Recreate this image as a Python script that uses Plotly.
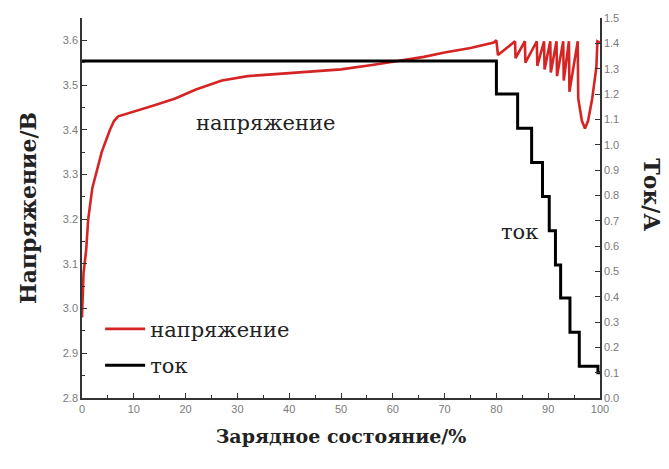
import plotly.graph_objects as go

# Voltage (left axis) vs state of charge
soc_v = [0, 0.3, 0.8, 1.2, 2.0, 2.7, 3.8, 5.4, 6.2, 7.0, 10, 14, 18, 22, 27, 32, 38, 44, 50, 56, 62, 66, 70, 75, 79.5, 80.0,
         80.3, 83.6, 83.7, 85.5, 85.6, 87.8, 87.9, 89.2, 89.3, 90.4, 90.5, 91.6, 91.7, 92.9, 93.0, 94.0, 94.1, 95.7, 95.8,
         96.5, 97.1, 97.7, 98.5, 99.3, 99.5, 100]
voltage = [2.98, 3.08, 3.13, 3.2, 3.27, 3.3, 3.35, 3.4, 3.42, 3.43, 3.44, 3.455, 3.47, 3.49, 3.51, 3.52, 3.525, 3.53, 3.535,
           3.545, 3.555, 3.563, 3.573, 3.583, 3.595, 3.600,
           3.567, 3.598, 3.560, 3.598, 3.550, 3.598, 3.543, 3.598, 3.535, 3.598, 3.528, 3.598, 3.520, 3.598, 3.510, 3.598,
           3.485, 3.598, 3.47, 3.42, 3.403, 3.42, 3.47, 3.54, 3.598, 3.595]

# Current (right axis), step profile
soc_i = [0, 80, 84.1, 86.8, 88.9, 90.2, 91.4, 92.4, 94.2, 96.0, 99.6, 100]
current = [1.33, 1.20, 1.065, 0.93, 0.795, 0.66, 0.525, 0.395, 0.26, 0.125, 0.10, 0.10]

x_ticks = list(range(0, 101, 10))
v_ticks = [2.8, 2.9, 3.0, 3.1, 3.2, 3.3, 3.4, 3.5, 3.6]
i_ticks = [round(0.1 * k, 1) for k in range(16)]

serif = "DejaVu Serif"
tickfont = dict(family="Liberation Sans", size=11, color="#7a7a7a")
xtitle_font = dict(family=serif, size=19, color="#222222")
ytitle_font = dict(family=serif, size=22, color="#222222")
label_font = dict(family=serif, size=21, color="#222222")

fig = go.Figure()
fig.add_trace(go.Scatter(x=soc_v, y=voltage, mode="lines", name="напряжение",
                         line=dict(color="#d42424", width=2.6), legendgroup="a"))
fig.add_trace(go.Scatter(x=soc_i, y=current, mode="lines", name="ток", yaxis="y2",
                         line=dict(color="#000000", width=3, shape="hv"), legendgroup="b"))

axis_common = dict(showgrid=False, zeroline=False, showline=True, linecolor="#333333", linewidth=1.5,
                   ticks="inside", ticklen=5, tickwidth=1.2, tickcolor="#333333", tickfont=tickfont,
                   minor=dict(ticks="inside", ticklen=3, tickcolor="#333333", tickwidth=1))

fig.update_layout(
    width=669, height=469,
    margin=dict(l=82, r=69, t=18, b=71),
    plot_bgcolor="white", paper_bgcolor="white",
    xaxis=dict(range=[0, 100], tickvals=x_ticks, **axis_common,
               title=dict(text="<b>Зарядное состояние/%</b>", font=xtitle_font, standoff=16)),
    yaxis=dict(range=[2.8, 3.65], tickvals=v_ticks, tickformat=".1f", **axis_common,
               title=dict(text="<b>Напряжение/В</b>", font=ytitle_font, standoff=20)),
    yaxis2=dict(range=[0, 1.5], tickvals=i_ticks, tickformat=".1f", overlaying="y", side="right", **axis_common),
    legend=dict(x=0.035, y=0.235, xanchor="left", yanchor="top", bgcolor="rgba(0,0,0,0)",
                font=label_font, tracegroupgap=6, itemwidth=40),
    showlegend=True,
    annotations=[
        dict(text="напряжение", x=35.5, y=3.415, xref="x", yref="y", showarrow=False, font=label_font),
        dict(text="ток", x=84.5, y=0.655, xref="x", yref="y2", showarrow=False, font=label_font),
        dict(text="<b>Ток/А</b>", x=1.13, y=0.535, xref="paper", yref="paper", showarrow=False,
             textangle=90, font=ytitle_font),
    ],
)

fig.write_html("out.html")
